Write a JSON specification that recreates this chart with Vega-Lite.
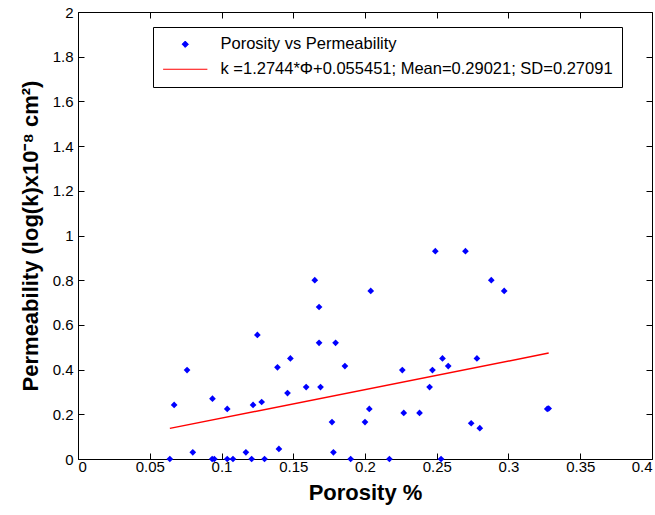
{
  "$schema": "https://vega.github.io/schema/vega-lite/v6.json",
  "width": 574,
  "height": 447,
  "autosize": "none",
  "padding": {"left": 78, "top": 12, "right": 3, "bottom": 56},
  "background": "white",
  "config": {
    "font": "Liberation Sans",
    "view": {"stroke": "black", "strokeWidth": 1},
    "axis": {"grid": false, "domain": false, "ticks": true, "offset": -6, "tickSize": 6, "tickWidth": 1, "tickOpacity": 1, "tickColor": "black", "labelColor": "black", "labelFont": "Liberation Sans", "labelFontSize": 15, "titleFont": "Liberation Sans", "titleFontSize": 22, "titleFontWeight": "bold", "titleColor": "black"}
  },
  "datasets": {
    "pts": [
      {"porosity": 0.064, "perm": 0, "series": "Porosity vs Permeability"},
      {"porosity": 0.067, "perm": 0.242, "series": "Porosity vs Permeability"},
      {"porosity": 0.076, "perm": 0.398, "series": "Porosity vs Permeability"},
      {"porosity": 0.080, "perm": 0.03, "series": "Porosity vs Permeability"},
      {"porosity": 0.0937, "perm": 0.27, "series": "Porosity vs Permeability"},
      {"porosity": 0.0935, "perm": 0, "series": "Porosity vs Permeability"},
      {"porosity": 0.095, "perm": 0, "series": "Porosity vs Permeability"},
      {"porosity": 0.104, "perm": 0.224, "series": "Porosity vs Permeability"},
      {"porosity": 0.104, "perm": 0, "series": "Porosity vs Permeability"},
      {"porosity": 0.108, "perm": 0, "series": "Porosity vs Permeability"},
      {"porosity": 0.117, "perm": 0.03, "series": "Porosity vs Permeability"},
      {"porosity": 0.121, "perm": 0, "series": "Porosity vs Permeability"},
      {"porosity": 0.122, "perm": 0.242, "series": "Porosity vs Permeability"},
      {"porosity": 0.125, "perm": 0.555, "series": "Porosity vs Permeability"},
      {"porosity": 0.128, "perm": 0.255, "series": "Porosity vs Permeability"},
      {"porosity": 0.130, "perm": 0, "series": "Porosity vs Permeability"},
      {"porosity": 0.139, "perm": 0.41, "series": "Porosity vs Permeability"},
      {"porosity": 0.140, "perm": 0.045, "series": "Porosity vs Permeability"},
      {"porosity": 0.146, "perm": 0.295, "series": "Porosity vs Permeability"},
      {"porosity": 0.148, "perm": 0.45, "series": "Porosity vs Permeability"},
      {"porosity": 0.159, "perm": 0.322, "series": "Porosity vs Permeability"},
      {"porosity": 0.165, "perm": 0.8, "series": "Porosity vs Permeability"},
      {"porosity": 0.168, "perm": 0.68, "series": "Porosity vs Permeability"},
      {"porosity": 0.168, "perm": 0.52, "series": "Porosity vs Permeability"},
      {"porosity": 0.169, "perm": 0.322, "series": "Porosity vs Permeability"},
      {"porosity": 0.177, "perm": 0.165, "series": "Porosity vs Permeability"},
      {"porosity": 0.178, "perm": 0.03, "series": "Porosity vs Permeability"},
      {"porosity": 0.1795, "perm": 0.52, "series": "Porosity vs Permeability"},
      {"porosity": 0.186, "perm": 0.416, "series": "Porosity vs Permeability"},
      {"porosity": 0.190, "perm": 0, "series": "Porosity vs Permeability"},
      {"porosity": 0.200, "perm": 0.165, "series": "Porosity vs Permeability"},
      {"porosity": 0.203, "perm": 0.224, "series": "Porosity vs Permeability"},
      {"porosity": 0.204, "perm": 0.752, "series": "Porosity vs Permeability"},
      {"porosity": 0.217, "perm": 0, "series": "Porosity vs Permeability"},
      {"porosity": 0.226, "perm": 0.398, "series": "Porosity vs Permeability"},
      {"porosity": 0.227, "perm": 0.206, "series": "Porosity vs Permeability"},
      {"porosity": 0.238, "perm": 0.206, "series": "Porosity vs Permeability"},
      {"porosity": 0.245, "perm": 0.322, "series": "Porosity vs Permeability"},
      {"porosity": 0.247, "perm": 0.398, "series": "Porosity vs Permeability"},
      {"porosity": 0.249, "perm": 0.93, "series": "Porosity vs Permeability"},
      {"porosity": 0.253, "perm": 0, "series": "Porosity vs Permeability"},
      {"porosity": 0.254, "perm": 0.45, "series": "Porosity vs Permeability"},
      {"porosity": 0.258, "perm": 0.416, "series": "Porosity vs Permeability"},
      {"porosity": 0.270, "perm": 0.93, "series": "Porosity vs Permeability"},
      {"porosity": 0.274, "perm": 0.16, "series": "Porosity vs Permeability"},
      {"porosity": 0.278, "perm": 0.45, "series": "Porosity vs Permeability"},
      {"porosity": 0.280, "perm": 0.138, "series": "Porosity vs Permeability"},
      {"porosity": 0.288, "perm": 0.8, "series": "Porosity vs Permeability"},
      {"porosity": 0.297, "perm": 0.752, "series": "Porosity vs Permeability"},
      {"porosity": 0.327, "perm": 0.224, "series": "Porosity vs Permeability"},
      {"porosity": 0.328, "perm": 0.226, "series": "Porosity vs Permeability"}
    ],
    "fit": [
      {"porosity": 0.064, "perm": 0.137, "series": "\u00a0k =1.2744*Φ+0.055451; Mean=0.29021; SD=0.27091\u00a0\u00a0\u00a0"},
      {"porosity": 0.328, "perm": 0.474, "series": "\u00a0k =1.2744*Φ+0.055451; Mean=0.29021; SD=0.27091\u00a0\u00a0\u00a0"}
    ]
  },
  "layer": [
    {
      "data": {"name": "fit"},
      "mark": {"type": "line", "strokeWidth": 1.5},
      "encoding": {
        "x": {"field": "porosity", "type": "quantitative", "scale": {"domain": [0, 0.4], "nice": false, "zero": false},
              "axis": {"orient": "top", "labels": false, "title": null, "values": [0,0.05,0.1,0.15,0.2,0.25,0.3,0.35,0.4]}},
        "y": {"field": "perm", "type": "quantitative", "scale": {"domain": [0, 2], "nice": false},
              "axis": {"orient": "right", "labels": false, "title": null, "values": [0,0.2,0.4,0.6,0.8,1,1.2,1.4,1.6,1.8,2]}},
        "color": {"field": "series", "type": "nominal",
                  "scale": {"domain": ["Porosity vs Permeability", "\u00a0k =1.2744*Φ+0.055451; Mean=0.29021; SD=0.27091\u00a0\u00a0\u00a0"], "range": ["#0000ff", "#ff0000"]}}
      }
    },
    {
      "data": {"name": "pts"},
      "mark": {"type": "point", "filled": true, "opacity": 1, "size": 45, "strokeWidth": 1},
      "encoding": {
        "x": {"field": "porosity", "type": "quantitative",
              "axis": {"orient": "bottom", "title": "Porosity %", "values": [0,0.05,0.1,0.15,0.2,0.25,0.3,0.35,0.4], "format": "~g", "labelPadding": 0, "titlePadding": 8}},
        "y": {"field": "perm", "type": "quantitative",
              "axis": {"orient": "left", "title": "Permeability (log(k)x10⁻⁸ cm²)", "values": [0,0.2,0.4,0.6,0.8,1,1.2,1.4,1.6,1.8,2], "format": "~g", "labelPadding": 5, "titlePadding": 10}},
        "color": {"field": "series", "type": "nominal",
                  "legend": {"orient": "none", "legendX": 75, "legendY": 15, "title": null, "strokeColor": "black", "fillColor": "white", "padding": 9, "rowPadding": 8, "labelFontSize": 16.5, "labelFont": "Liberation Sans", "labelColor": "black", "labelLimit": 700, "labelOffset": 27, "symbolOffset": 15, "symbolSize": 40, "symbolStrokeWidth": 1,
                    "encode": {"symbols": {"stroke": {"value": {"expr": "datum.index === 0 ? '#0000ff' : '#ff0000'"}}, "strokeWidth": {"value": 1}}}},
                  "scale": {"domain": ["Porosity vs Permeability", "\u00a0k =1.2744*Φ+0.055451; Mean=0.29021; SD=0.27091\u00a0\u00a0\u00a0"], "range": ["#0000ff", "#ff0000"]}},
        "shape": {"field": "series", "type": "nominal",
                  "scale": {"domain": ["Porosity vs Permeability", "\u00a0k =1.2744*Φ+0.055451; Mean=0.29021; SD=0.27091\u00a0\u00a0\u00a0"], "range": ["diamond", "M-7,0L7,0"]}}
      }
    }
  ]
}
